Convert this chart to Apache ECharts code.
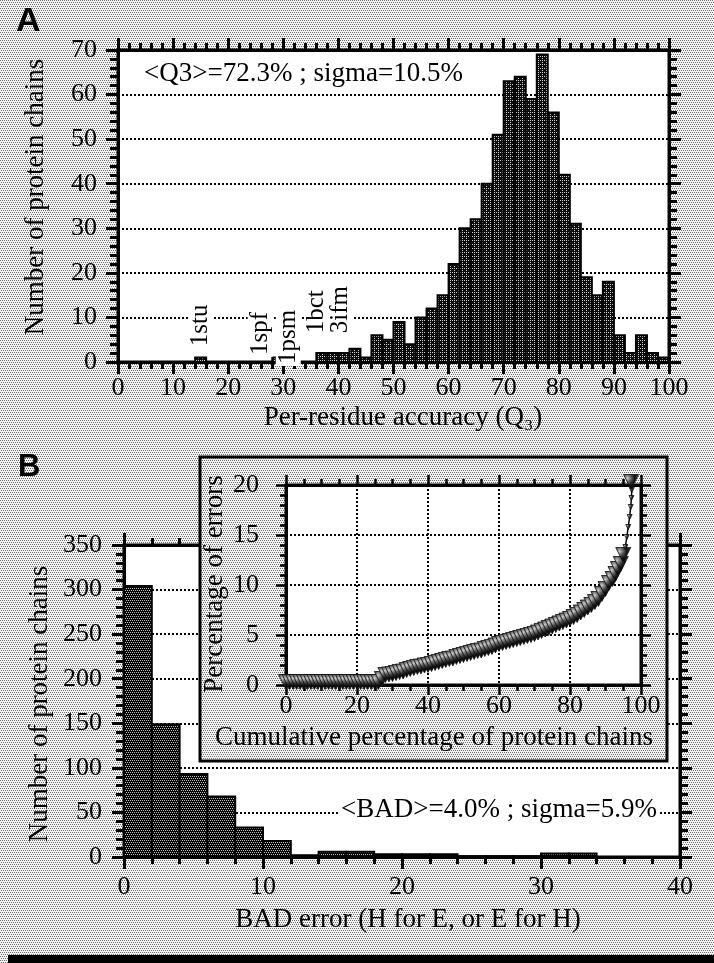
<!DOCTYPE html>
<html><head><meta charset="utf-8">
<script src="https://cdn.jsdelivr.net/npm/echarts@6/dist/echarts.min.js"></script>
<style>html,body{margin:0;padding:0;} #c{width:714px;height:963px;}</style>
</head><body><div id="c"></div>
<script>
// ---------- DATA ----------
// Panel A: per-residue accuracy histogram (bins of width 2, start values)
const qBinStart = [0,2,4,6,8,10,12,14,16,18,20,22,24,26,28,30,32,34,36,38,40,42,44,46,48,50,52,54,56,58,60,62,64,66,68,70,72,74,76,78,80,82,84,86,88,90,92,94,96,98];
const qCounts   = [0,0,0,0,0,0,0,1,0,0,0,0,0,0,1,1,0,0,2,2,2,3,1,6,5,9,4,10,12,15,22,30,32,40,51,63,64,59,69,56,42,31,19,15,18,6,2,6,2,1];
const qStats = '<Q3>=72.3% ; sigma=10.5%';
// outlier protein labels (Q3 position, label anchor height)
const caseNames = ['1stu','1spf','1psm','1bct','3ifm'];
const caseQ     = [15, 25.8, 30.9, 36.1, 40.3];
const caseH     = [3.1, 1.1, -0.9, 6, 6];
// Panel B: BAD error histogram
const badBinStart = [0,2,4,6,8,10,12,14,16,18,20,22,24,26,28,30,32,34,36,38];
const badCounts   = [304,149,93,68,33,18,2,6,6,3,3,3,1,1,1,4,4,0,0,0];
const badStats = '<BAD>=4.0% ; sigma=5.9%';
// Inset: cumulative percentage of chains vs percentage of errors
const cumChains = [0,1,2,3,4,5,6,7,8,9,10,11,12,13,14,15,16,17,18,19,20,21,22,23,24,25,26,27,28,29,30,31,32,33,34,35,36,37,38,39,40,41,42,43,44,45,46,47,48,49,50,51,52,53,54,55,56,57,58,59,60,61,62,63,64,65,66,67,68,69,70,71,72,73,74,75,76,77,78,79,80,81,82,83,84,85,86,87,88,89,90,91,92,92.8,93.5,94.3,95,95.6,96,96.4,96.8,97.1,97.3,97.4,97.2];
const errPct    = [0.3,0.3,0.3,0.3,0.3,0.3,0.3,0.3,0.3,0.3,0.3,0.3,0.3,0.3,0.3,0.3,0.3,0.3,0.3,0.3,0.3,0.3,0.3,0.3,0.3,0.3,0.3,0.6,1.0,1.05,1.1,1.2,1.3,1.35,1.5,1.6,1.7,1.8,1.85,1.95,2.0,2.1,2.2,2.3,2.4,2.5,2.6,2.65,2.8,2.9,3.0,3.1,3.2,3.3,3.4,3.45,3.6,3.7,3.8,3.95,4.1,4.2,4.3,4.4,4.5,4.6,4.7,4.8,4.9,5.0,5.1,5.25,5.4,5.55,5.7,5.85,6.0,6.15,6.3,6.45,6.6,6.8,7.0,7.25,7.5,7.75,8.0,8.3,8.6,9.1,9.6,10.2,10.6,11.1,11.6,12.1,13.0,13.8,14.8,15.8,16.8,17.8,18.7,19.5,20.3];

// ---------- STYLE HELPERS ----------
function tile(w,h,bg,fg,pts){const c=document.createElement('canvas');c.width=w;c.height=h;const g=c.getContext('2d');g.fillStyle=bg;g.fillRect(0,0,w,h);g.fillStyle=fg;pts.forEach(p=>g.fillRect(p[0],p[1],1,1));return c;}
const pageTile = tile(4,4,'#f2f2f2','#6e6e6e',[[0,0],[2,0],[1,2],[3,2]]);
const barATile = tile(4,4,'#0c0c0c','#d0d0d0',[[0,0],[2,2],[2,0]]);
const barBTile = tile(4,4,'#050505','#c0c0c0',[[0,0],[2,0],[1,2],[3,2]]);
document.body.style.background = 'url(' + pageTile.toDataURL() + ') repeat';
const pagePat = {image: pageTile, repeat: 'repeat'};
const barAPat = {image: barATile, repeat: 'repeat'};
const barBPat = {image: barBTile, repeat: 'repeat'};

const SERIF = '"Liberation Serif","Times New Roman",serif';
const FS = 26;
const blk = '#000';
function axisBase(o){
  return Object.assign({
    type:'value', z:1,
    axisLine:{show:true, onZero:false, lineStyle:{color:blk, width:3}},
    axisTick:{show:true, inside:false, length:12, lineStyle:{color:blk, width:3}},
    minorTick:{show:true, length:7, lineStyle:{color:blk, width:3}},
    axisLabel:{show:false, color:blk, fontFamily:SERIF, fontSize:FS},
    splitLine:{show:false}
  }, o);
}
const dotted = {show:true, lineStyle:{color:blk, width:2, type:[2,2]}};

function barRenderer(pat, starts){
  const w = starts[1]-starts[0];
  return function(params, api){
    const x0 = api.value(0), v = api.value(1);
    if (!v) return null;
    const p0 = api.coord([x0, v]);
    const p1 = api.coord([x0 + w, 0]);
    return {type:'rect', shape:{x:p0[0], y:p0[1], width:p1[0]-p0[0], height:p1[1]-p0[1]},
            style:{fill:pat, stroke:blk, lineWidth:2}};
  };
}

const chart = echarts.init(document.getElementById('c'), null, {renderer:'canvas', width:714, height:963});
const option = {
  backgroundColor:'transparent',
  animation:false,
  grid:[
    {left:118, top:50, width:551, height:312, show:true, backgroundColor:'#fff', borderColor:blk, borderWidth:3, z:0},
    {left:124, top:545, width:556, height:312, show:true, backgroundColor:'#fff', borderColor:blk, borderWidth:3, z:0},
    {left:286, top:485, width:355, height:200, show:true, backgroundColor:'#fff', borderColor:blk, borderWidth:3, z:11}
  ],
  xAxis:[
    axisBase({gridIndex:0, position:'bottom', min:0, max:100, interval:10, minorTick:{show:true, splitNumber:5, length:7, lineStyle:{color:blk,width:3}}, axisLabel:{show:true, color:blk, fontFamily:SERIF, fontSize:FS, margin:13}}),
    axisBase({gridIndex:0, position:'top', min:0, max:100, interval:10, minorTick:{show:true, splitNumber:5, length:7, lineStyle:{color:blk,width:3}}}),
    axisBase({gridIndex:1, position:'bottom', min:0, max:40, interval:10, minorTick:{show:true, splitNumber:5, length:7, lineStyle:{color:blk,width:3}}, axisLabel:{show:true, color:blk, fontFamily:SERIF, fontSize:FS, margin:17}}),
    axisBase({gridIndex:1, position:'top', min:0, max:40, interval:10, minorTick:{show:true, splitNumber:5, length:7, lineStyle:{color:blk,width:3}}}),
    axisBase({gridIndex:2, position:'bottom', z:12, min:0, max:100, interval:20, axisTick:{show:true, length:10, lineStyle:{color:blk,width:2.5}}, minorTick:{show:true, splitNumber:4, length:6, lineStyle:{color:blk,width:2.5}}, axisLabel:{show:true, color:blk, fontFamily:SERIF, fontSize:FS, margin:8}, splitLine:dotted}),
    axisBase({gridIndex:2, position:'top', z:12, min:0, max:100, interval:20, axisTick:{show:true, length:10, lineStyle:{color:blk,width:2.5}}, minorTick:{show:true, splitNumber:4, length:6, lineStyle:{color:blk,width:2.5}}})
  ],
  yAxis:[
    axisBase({gridIndex:0, position:'left', min:0, max:70, interval:10, minorTick:{show:true, splitNumber:5, length:8, lineStyle:{color:blk,width:3}}, axisLabel:{show:true, color:blk, fontFamily:SERIF, fontSize:FS, margin:21}, splitLine:dotted}),
    axisBase({gridIndex:0, position:'right', min:0, max:70, interval:10, minorTick:{show:true, splitNumber:5, length:8, lineStyle:{color:blk,width:3}}}),
    axisBase({gridIndex:1, position:'left', min:0, max:350, interval:50, minorTick:{show:true, splitNumber:5, length:8, lineStyle:{color:blk,width:3}}, axisLabel:{show:true, color:blk, fontFamily:SERIF, fontSize:FS, margin:22}, splitLine:dotted}),
    axisBase({gridIndex:1, position:'right', min:0, max:350, interval:50, minorTick:{show:true, splitNumber:5, length:8, lineStyle:{color:blk,width:3}}}),
    axisBase({gridIndex:2, position:'left', z:12, min:0, max:20, interval:5, axisTick:{show:true, length:10, lineStyle:{color:blk,width:2.5}}, minorTick:{show:true, splitNumber:5, length:6, lineStyle:{color:blk,width:2.5}}, axisLabel:{show:true, color:blk, fontFamily:SERIF, fontSize:FS, margin:27}, splitLine:dotted}),
    axisBase({gridIndex:2, position:'right', z:12, min:0, max:20, interval:5, axisTick:{show:true, length:10, lineStyle:{color:blk,width:2.5}}, minorTick:{show:true, splitNumber:5, length:6, lineStyle:{color:blk,width:2.5}}})
  ],
  series:[
    {type:'custom', xAxisIndex:0, yAxisIndex:0, z:2, clip:false,
     data: qBinStart.map((s,i)=>[s, qCounts[i]]), renderItem: barRenderer(barAPat, qBinStart)},
    {type:'custom', xAxisIndex:0, yAxisIndex:0, z:3, clip:false,
     data: caseNames.map((n,i)=>[caseQ[i], caseH[i]]),
     renderItem:function(params, api){
       const pt = api.coord([api.value(0), api.value(1)]);
       return {type:'text', x:pt[0], y:pt[1], rotation:Math.PI/2,
         style:{text:caseNames[params.dataIndex], font:'25px ' + SERIF, fill:blk, align:'left', verticalAlign:'middle', backgroundColor:'#fff', padding:[0,2,0,2]}};
     }},
    {type:'custom', xAxisIndex:2, yAxisIndex:2, z:2, clip:false,
     data: badBinStart.map((s,i)=>[s, badCounts[i]]), renderItem: barRenderer(barBPat, badBinStart)},
    {type:'line', xAxisIndex:4, yAxisIndex:4, z:13, clip:false,
     data: cumChains.map((x,i)=>[x, errPct[i]]),
     symbol:'triangle', symbolRotate:180, showAllSymbol:true,
     symbolSize:function(v){ return (v[1] > 13.5 && v[1] < 19.8) ? 5 : 15; },
     itemStyle:{color:barAPat, borderColor:'#111', borderWidth:0.8},
     lineStyle:{color:blk, width:1.5}}
  ],
  graphic:[
    {type:'rect', z:10, shape:{x:200, y:457, width:467, height:304}, style:{fill:pagePat, stroke:blk, lineWidth:3}},
    {type:'text', z:20, x:16, y:22, style:{text:'A', font:'bold 34px "Liberation Sans",Arial,sans-serif', fill:blk, verticalAlign:'middle'}},
    {type:'text', z:20, x:18, y:467, style:{text:'B', font:'bold 31px "Liberation Sans",Arial,sans-serif', fill:blk, verticalAlign:'middle'}},
    {type:'text', z:5, x:141, y:74, style:{text:qStats, font:'27px ' + SERIF, fill:blk, verticalAlign:'middle', backgroundColor:'#fff', padding:[0,3,0,3]}},
    {type:'text', z:5, x:338, y:810, style:{text:badStats, font:'27px ' + SERIF, fill:blk, verticalAlign:'middle', backgroundColor:'#fff', padding:[0,3,0,3]}},
    {type:'text', z:20, x:403, y:418, style:{text:'Per-residue accuracy (Q\u2083)', font:'27px ' + SERIF, fill:blk, align:'center', verticalAlign:'middle'}},
    {type:'text', z:20, x:36, y:197, rotation:Math.PI/2, style:{text:'Number of protein chains', font:'27px ' + SERIF, fill:blk, align:'center', verticalAlign:'middle'}},
    {type:'text', z:20, x:40, y:704, rotation:Math.PI/2, style:{text:'Number of protein chains', font:'27px ' + SERIF, fill:blk, align:'center', verticalAlign:'middle'}},
    {type:'text', z:20, x:215, y:584, rotation:Math.PI/2, style:{text:'Percentage of errors', font:'27px ' + SERIF, fill:blk, align:'center', verticalAlign:'middle'}},
    {type:'text', z:20, x:434, y:738, style:{text:'Cumulative percentage of protein chains', font:'27px ' + SERIF, fill:blk, align:'center', verticalAlign:'middle'}},
    {type:'text', z:20, x:408, y:920, style:{text:'BAD error (H for E, or E for H)', font:'27px ' + SERIF, fill:blk, align:'center', verticalAlign:'middle'}},
    {type:'rect', z:20, shape:{x:8, y:955, width:706, height:8}, style:{fill:blk}}
  ]
};
chart.setOption(option);
</script>
</body></html>
